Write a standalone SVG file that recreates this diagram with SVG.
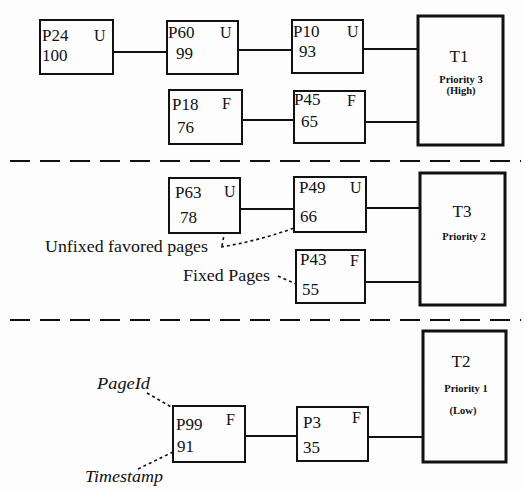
<svg xmlns="http://www.w3.org/2000/svg" width="524" height="492" viewBox="0 0 524 492">
<style>
.bg{fill:#fdfdfd}
.pg rect{fill:none;stroke:#111;stroke-width:2}
.tk rect{fill:none;stroke:#111;stroke-width:3}
text{font-family:"Liberation Serif","Times New Roman",serif;fill:#111}
.id{font-size:17px}
.fl{font-size:16px}
.tn{font-size:17px;text-anchor:middle}
.pr{font-size:10.5px;text-anchor:middle;font-weight:bold}
.ann{font-size:17px}
.it{font-size:17px;font-style:italic}
#connectors line,#connectors path{stroke:#111;stroke-width:1.8;fill:none}
#connectors .dash{stroke-width:1.6;stroke-dasharray:3 3}
.sep{stroke:#111;stroke-width:2;stroke-dasharray:20 10}
</style>
<rect class="bg" x="0" y="0" width="524" height="492"/>
<line class="sep" x1="10" y1="161" x2="521" y2="161"/>
<line class="sep" x1="10" y1="320" x2="521" y2="320"/>
<g id="connectors">
<line x1="113" y1="52" x2="167" y2="52"/>
<line x1="238" y1="50" x2="292" y2="50"/>
<line x1="363" y1="49" x2="418" y2="49"/>
<line x1="242" y1="120" x2="294" y2="120"/>
<line x1="365" y1="122" x2="418" y2="122"/>
<line x1="240" y1="209" x2="294" y2="209"/>
<line x1="366" y1="208" x2="420" y2="208"/>
<line x1="365" y1="282" x2="420" y2="282"/>
<line x1="245" y1="436" x2="297" y2="436"/>
<line x1="368" y1="437" x2="423" y2="437"/>
<path class="dash" d="M221 247 Q258 241 294 228"/>
<path class="dash" d="M222 246 L224 235"/>
<path class="dash" d="M278 276 L296 284"/>
<path class="dash" d="M147 393 L173 408"/>
<path class="dash" d="M138 469 L173 452"/>
</g>
<g id="P24" class="pg"><rect x="40" y="20" width="73" height="54"/><text class="id" x="42" y="41">P24</text><text class="fl" x="94" y="41">U</text><text class="id" x="42" y="61">100</text></g>
<g id="P60" class="pg"><rect x="167" y="21" width="71" height="53"/><text class="id" x="168" y="38">P60</text><text class="fl" x="220" y="38">U</text><text class="id" x="176" y="59">99</text></g>
<g id="P10" class="pg"><rect x="292" y="20" width="71" height="53"/><text class="id" x="293" y="37">P10</text><text class="fl" x="347" y="37">U</text><text class="id" x="299" y="57">93</text></g>
<g id="P18" class="pg"><rect x="169" y="90" width="73" height="54"/><text class="id" x="172" y="110">P18</text><text class="fl" x="222" y="109">F</text><text class="id" x="177" y="133">76</text></g>
<g id="P45" class="pg"><rect x="294" y="91" width="71" height="52"/><text class="id" x="294" y="105">P45</text><text class="fl" x="347" y="106">F</text><text class="id" x="301" y="127">65</text></g>
<g id="T1" class="tk"><rect x="418" y="16" width="85" height="129"/><text class="tn" x="459" y="62">T1</text><text class="pr" x="461" y="83">Priority 3</text><text class="pr" x="461" y="94">(High)</text></g>
<g id="P63" class="pg"><rect x="169" y="178" width="71" height="55"/><text class="id" x="175" y="198">P63</text><text class="fl" x="224" y="197">U</text><text class="id" x="180" y="223">78</text></g>
<g id="P49" class="pg"><rect x="294" y="177" width="72" height="55"/><text class="id" x="299" y="193">P49</text><text class="fl" x="350" y="193">U</text><text class="id" x="300" y="222">66</text></g>
<g id="P43" class="pg"><rect x="296" y="250" width="69" height="53"/><text class="id" x="300" y="265">P43</text><text class="fl" x="350" y="266">F</text><text class="id" x="302" y="295">55</text></g>
<g id="T3" class="tk"><rect x="420" y="173" width="85" height="132"/><text class="tn" x="462" y="217">T3</text><text class="pr" x="464" y="240">Priority 2</text></g>
<g id="P99" class="pg"><rect x="173" y="406" width="72" height="56"/><text class="id" x="176" y="430">P99</text><text class="fl" x="226" y="425">F</text><text class="id" x="177" y="452">91</text></g>
<g id="P3" class="pg"><rect x="297" y="407" width="71" height="54"/><text class="id" x="303" y="428">P3</text><text class="fl" x="352" y="423">F</text><text class="id" x="303" y="453">35</text></g>
<g id="T2" class="tk"><rect x="423" y="331" width="83" height="131"/><text class="tn" x="461" y="367">T2</text><text class="pr" x="466" y="392">Priority 1</text><text class="pr" x="463" y="414">(Low)</text></g>
<g id="ann-unfixed"><text class="ann" x="45" y="252" textLength="163" lengthAdjust="spacingAndGlyphs">Unfixed favored pages</text></g>
<g id="ann-fixed"><text class="ann" x="183" y="281" textLength="87" lengthAdjust="spacingAndGlyphs">Fixed Pages</text></g>
<g id="ann-pageid"><text class="it" x="97" y="389" textLength="53" lengthAdjust="spacingAndGlyphs">PageId</text></g>
<g id="ann-timestamp"><text class="it" x="85" y="482" textLength="78" lengthAdjust="spacingAndGlyphs">Timestamp</text></g>
</svg>
